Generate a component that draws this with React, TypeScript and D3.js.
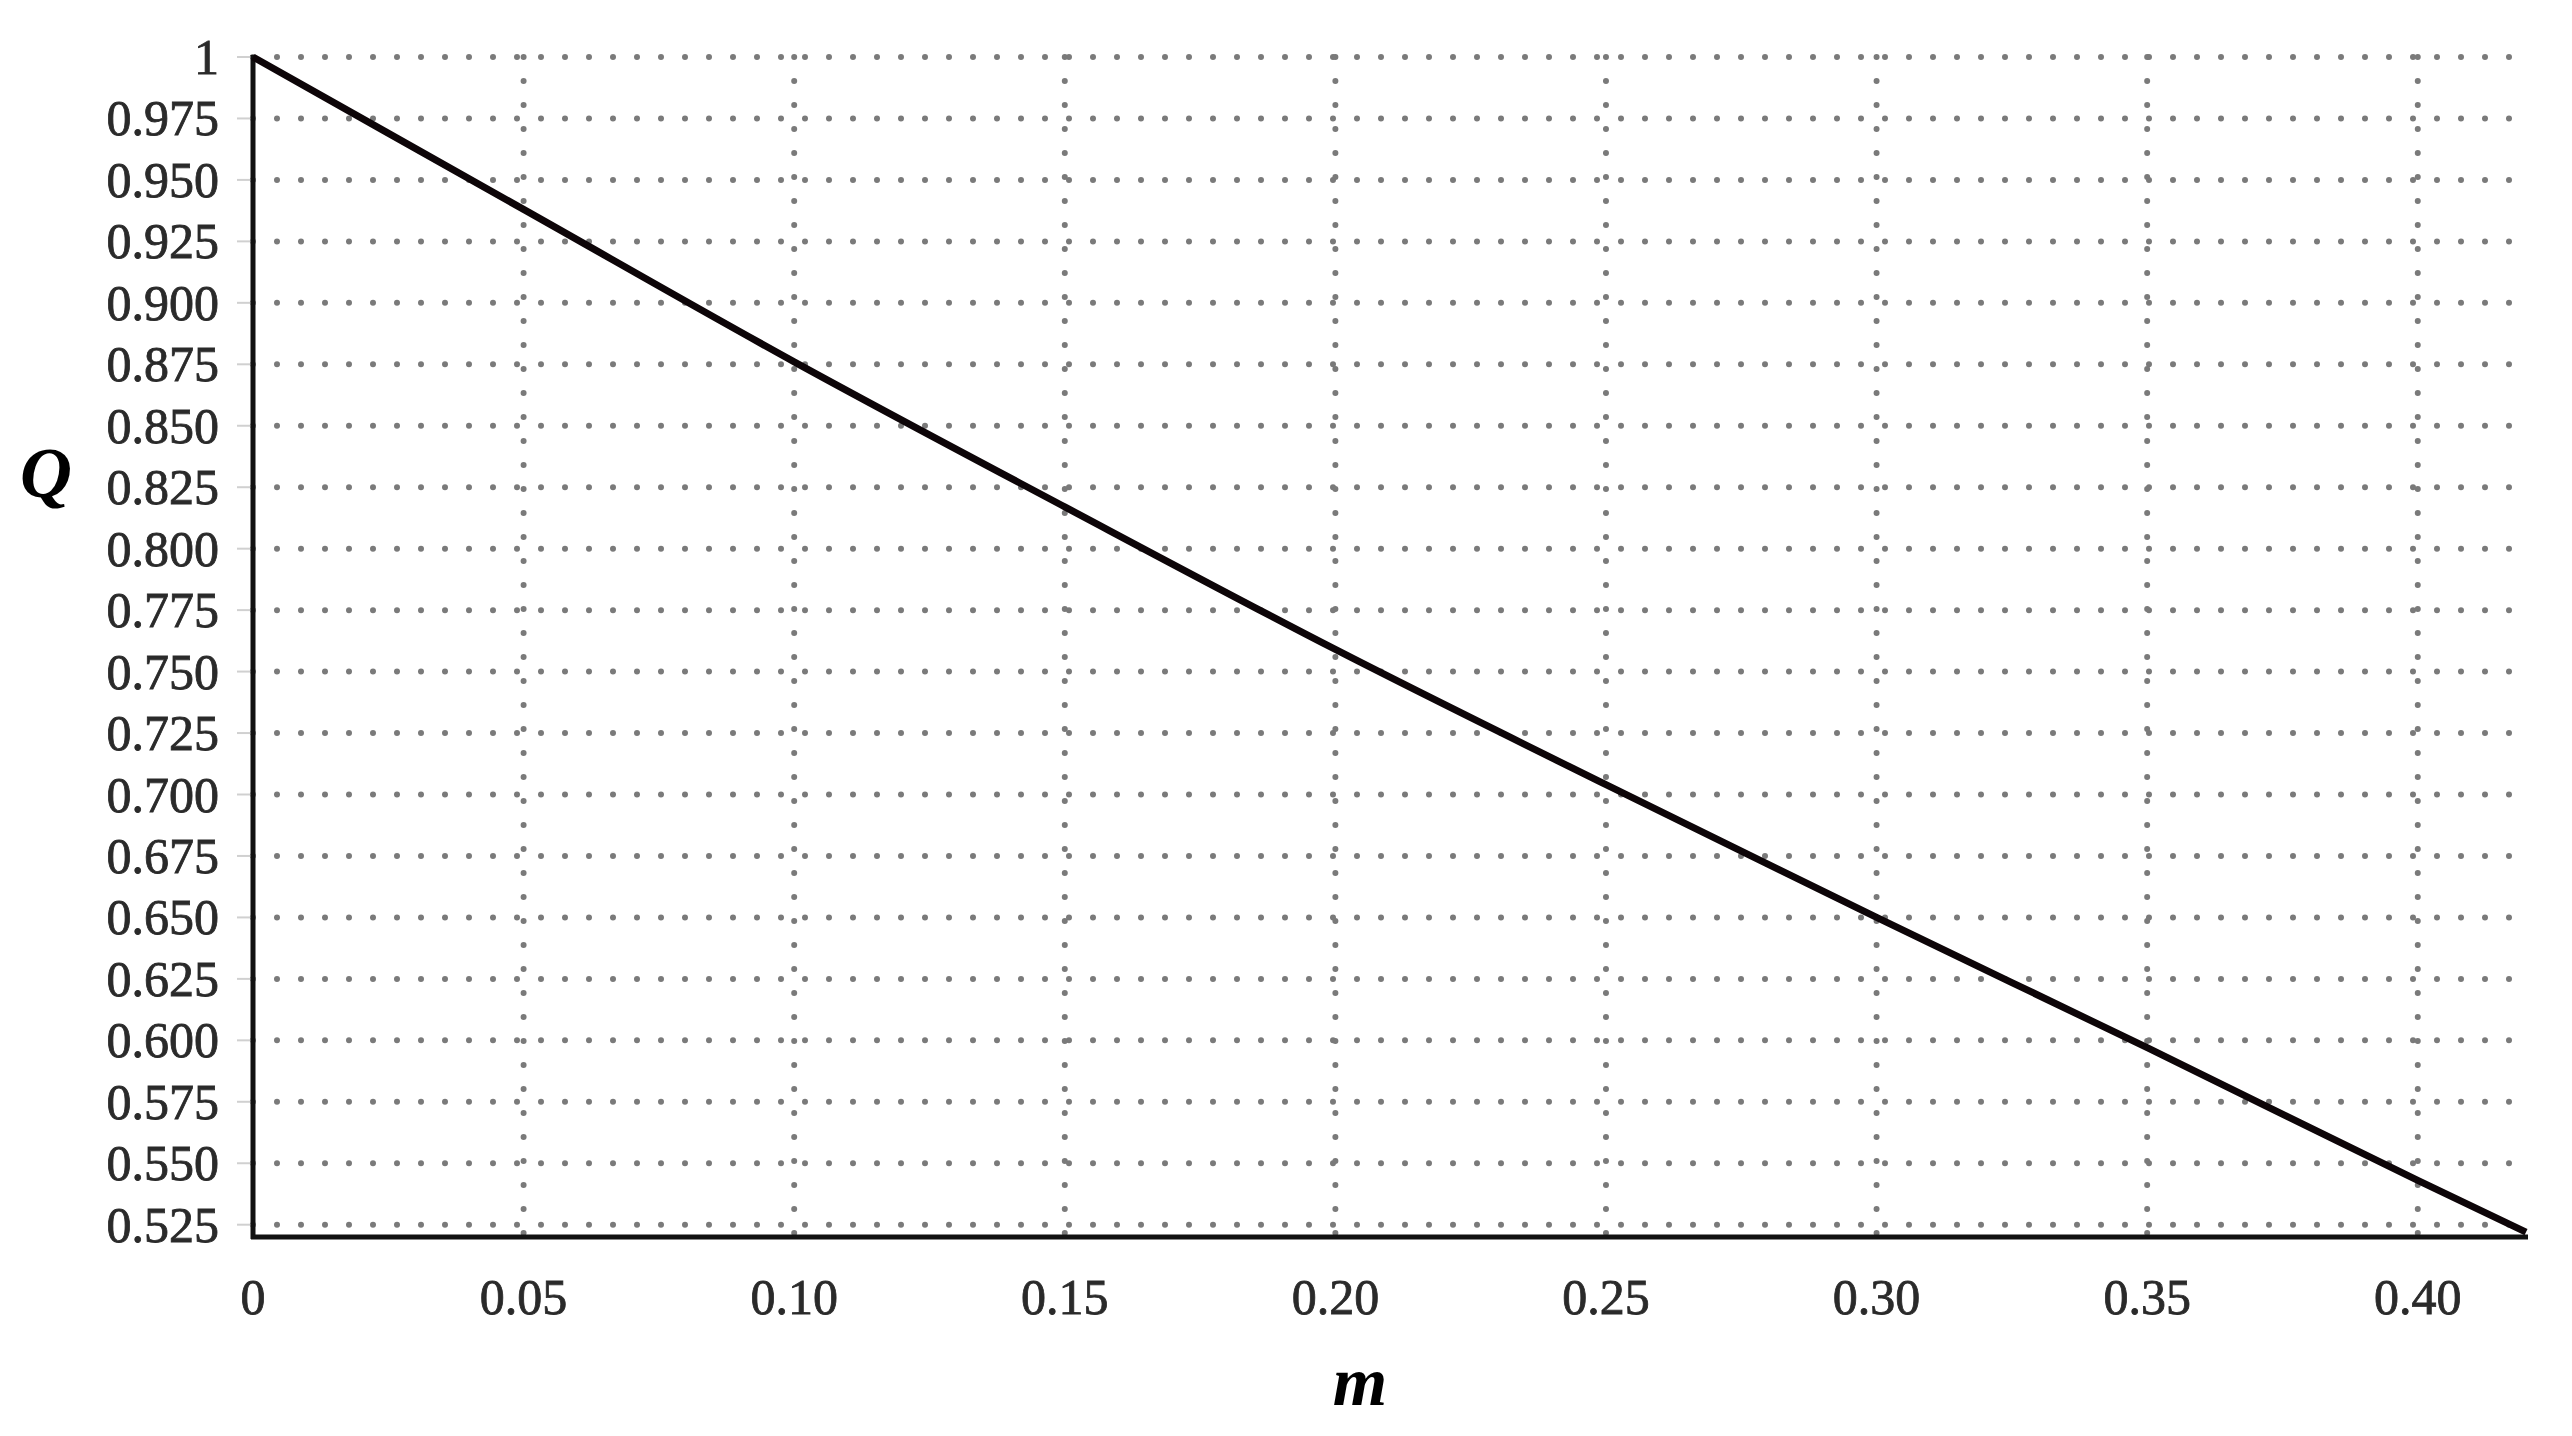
import { useEffect, useRef } from "react";
import * as d3 from "d3";

// values
const mValues = [0, 0.05, 0.1, 0.15, 0.2, 0.25, 0.3, 0.35, 0.4, 0.42];
const qValues = [1, 0.938, 0.876, 0.817, 0.759, 0.704, 0.65, 0.597, 0.543, 0.522];

const xTicks = [0, 0.05, 0.1, 0.15, 0.2, 0.25, 0.3, 0.35, 0.4];
const xTickLabels = ["0", "0.05", "0.10", "0.15", "0.20", "0.25", "0.30", "0.35", "0.40"];

const yTicks = [1, 0.975, 0.95, 0.925, 0.9, 0.875, 0.85, 0.825, 0.8, 0.775, 0.75, 0.725, 0.7, 0.675, 0.65, 0.625, 0.6, 0.575, 0.55, 0.525];
const yTickLabels = ["1", "0.975", "0.950", "0.925", "0.900", "0.875", "0.850", "0.825", "0.800", "0.775", "0.750", "0.725", "0.700", "0.675", "0.650", "0.625", "0.600", "0.575", "0.550", "0.525"];

export default function App() {
  const ref = useRef<SVGSVGElement>(null);

  useEffect(() => {
    const width = 2572;
    const height = 1436;
    const left = 253;
    const right = 2526;
    const top = 57;
    const bottom = 1237;

    const svg = d3.select(ref.current);
    svg.selectAll("*").remove();

    const x = d3.scaleLinear().domain([0, 0.42]).range([left, right]);
    const y = d3.scaleLinear().domain([0.52, 1]).range([bottom, top]);

    svg.append("rect").attr("width", width).attr("height", height).attr("fill", "#fff");

    const grid = svg.append("g")
      .attr("stroke", "#7a7a7a")
      .attr("stroke-width", 6)
      .attr("stroke-linecap", "round")
      .attr("stroke-dasharray", "0 24");

    // horizontal dotted grid
    grid.selectAll(".hg")
      .data(yTicks)
      .enter()
      .append("line")
      .attr("x1", left)
      .attr("x2", right + 4)
      .attr("y1", d => y(d))
      .attr("y2", d => y(d));

    // vertical dotted grid
    grid.selectAll(".vg")
      .data(xTicks.slice(1))
      .enter()
      .append("line")
      .attr("x1", d => x(d))
      .attr("x2", d => x(d))
      .attr("y1", top)
      .attr("y2", bottom + 18);

    // faint ticks left of the axis
    svg.append("g")
      .selectAll("line")
      .data(yTicks)
      .enter()
      .append("line")
      .attr("x1", left - 16)
      .attr("x2", left)
      .attr("y1", d => y(d))
      .attr("y2", d => y(d))
      .attr("stroke", "#d0d0d0")
      .attr("stroke-width", 2);

    // axes
    svg.append("line")
      .attr("x1", left).attr("x2", left)
      .attr("y1", top - 2).attr("y2", bottom + 2)
      .attr("stroke", "#111").attr("stroke-width", 5);
    svg.append("line")
      .attr("x1", left - 2).attr("x2", right + 2)
      .attr("y1", bottom).attr("y2", bottom)
      .attr("stroke", "#111").attr("stroke-width", 5);

    // curve
    const line = d3.line<number>()
      .x((d, i) => x(mValues[i]))
      .y(d => y(d))
      .curve(d3.curveMonotoneX);

    svg.append("path")
      .datum(qValues)
      .attr("fill", "none")
      .attr("stroke", "#0d0508")
      .attr("stroke-width", 7)
      .attr("stroke-linejoin", "round")
      .attr("d", line);

    // tick labels
    svg.append("g")
      .selectAll("text")
      .data(yTicks)
      .enter()
      .append("text")
      .attr("x", 219)
      .attr("y", d => y(d))
      .attr("dy", "0.34em")
      .attr("text-anchor", "end")
      .attr("font-family", "'Liberation Serif', 'DejaVu Serif', serif")
      .attr("font-size", 50)
      .attr("fill", "#2a2a2a")
      .attr("stroke", "#2a2a2a")
      .attr("stroke-width", 0.8)
      .text((d, i) => yTickLabels[i]);

    svg.append("g")
      .selectAll("text")
      .data(xTicks)
      .enter()
      .append("text")
      .attr("x", d => x(d))
      .attr("y", 1314)
      .attr("text-anchor", "middle")
      .attr("font-family", "'Liberation Serif', 'DejaVu Serif', serif")
      .attr("font-size", 50)
      .attr("fill", "#2a2a2a")
      .attr("stroke", "#2a2a2a")
      .attr("stroke-width", 0.8)
      .text((d, i) => xTickLabels[i]);

    // axis titles
    svg.append("text")
      .attr("x", 46)
      .attr("y", 497)
      .attr("text-anchor", "middle")
      .attr("font-family", "'Liberation Serif', serif")
      .attr("font-style", "italic")
      .attr("font-weight", "bold")
      .attr("font-size", 72)
      .attr("fill", "#000")
      .text("Q");

    svg.append("text")
      .attr("x", 1360)
      .attr("y", 1405)
      .attr("text-anchor", "middle")
      .attr("font-family", "'Liberation Serif', serif")
      .attr("font-style", "italic")
      .attr("font-weight", "bold")
      .attr("font-size", 70)
      .attr("fill", "#000")
      .text("m");
  }, []);

  return (
    <svg
      ref={ref}
      width={2572}
      height={1436}
      style={{ position: "absolute", left: 0, top: 0, display: "block" }}
    ></svg>
  );
}
